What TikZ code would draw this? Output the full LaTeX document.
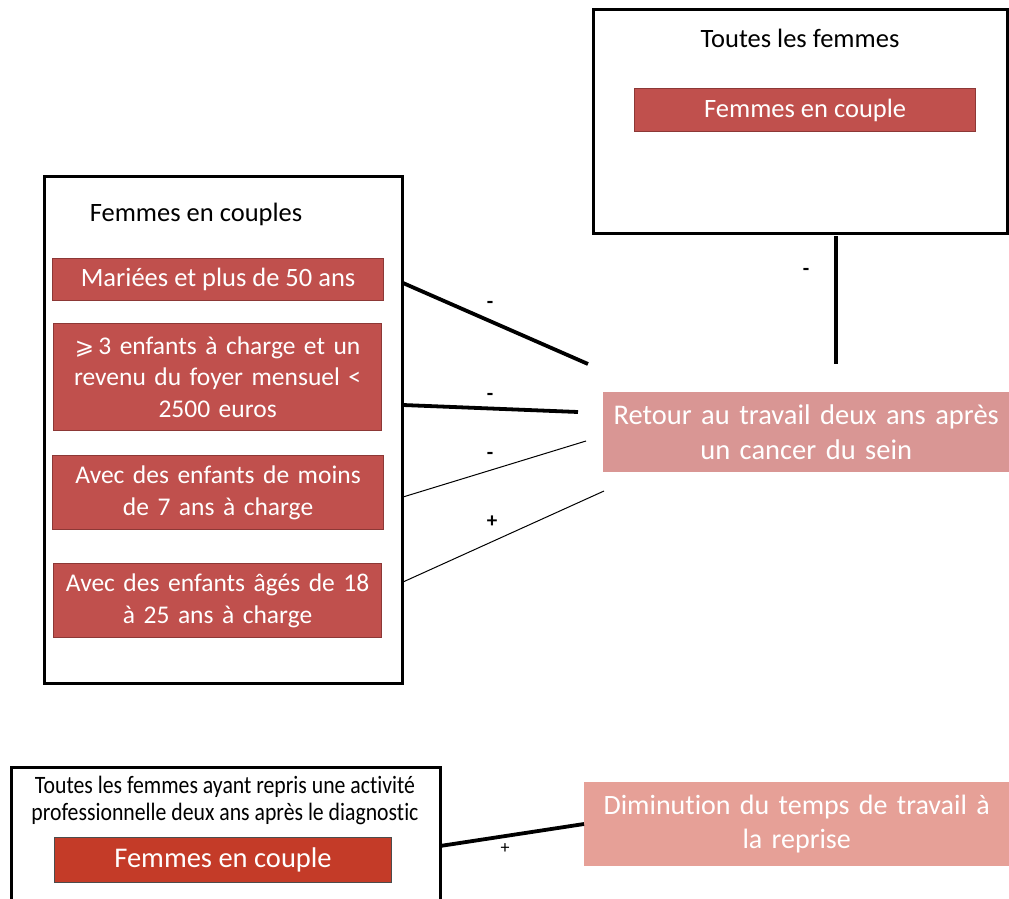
\documentclass[tikz,border=0pt]{standalone}
\usepackage{fontspec}
\setmainfont{Carlito}[Ligatures=NoCommon]
\newfontfamily\condfont[FakeStretch=0.87,Ligatures=NoCommon]{Carlito}
\definecolor{boxred}{HTML}{C0504D}
\definecolor{boxredline}{HTML}{8C3836}
\definecolor{pinkA}{HTML}{D99694}
\definecolor{pinkB}{HTML}{E6A097}
\definecolor{deepred}{HTML}{C43B28}
\tikzset{
  outer/.style={draw=black, line width=3pt, fill=white, inner sep=0pt},
  redbox/.style={draw=boxredline, line width=1.2pt, fill=boxred, text=white, inner sep=0pt, align=center,
    font=\fontsize{26.5}{31.5}\selectfont},
  redmulti/.style={redbox, font=\fontsize{25.5}{31.5}\selectfont},
  pinkbox/.style={fill=pinkA, text=white, inner sep=0pt, align=center, font=\fontsize{28.5}{35}\selectfont},
  hdr/.style={font=\fontsize{26.5}{30}\selectfont, inner sep=0pt},
  thickln/.style={line width=3.8pt},
  thinln/.style={line width=1pt},
  sign/.style={font=\fontsize{21}{21}\selectfont\bfseries, inner sep=0pt},
}
\begin{document}
\begin{tikzpicture}[x=1pt,y=-1pt]
\useasboundingbox (0,0) rectangle (1009,899);
% top right box
\node[outer, minimum width=414pt, minimum height=224pt, anchor=north west] (T) at (592,8) {};
\node[hdr] (Th) at (800,38) {Toutes les femmes};
\node[redbox, minimum width=341pt, minimum height=43pt, anchor=north west] (Tr) at (634,88) {Femmes en couple};
% left box
\node[outer, minimum width=358pt, minimum height=507pt, anchor=north west] (L) at (43,175) {};
\node[hdr] (Lh) at (196,214) {Femmes en couples};
\node[redbox, minimum width=331pt, minimum height=42pt, anchor=north west] (L1) at (52,258) {Mariées et plus de 50 ans};
\node[redmulti, minimum width=328pt, minimum height=107pt, anchor=north west, text width=326pt] (L2) at (53,323) {{\fontspec{DejaVu Sans}\fontsize{23}{31.5}\selectfont ⩾}\,3 enfants à charge et un\\revenu du foyer mensuel <\\2500 euros};
\node[redmulti, minimum width=331pt, minimum height=74pt, anchor=north west, text width=326pt] (L3) at (52,455) {Avec des enfants de moins\\de 7 ans à charge};
\node[redmulti, minimum width=328pt, minimum height=74pt, anchor=north west, text width=326pt] (L4) at (53,563) {Avec des enfants âgés de 18\\à 25 ans à charge};
% retour box
\node[pinkbox, minimum width=406pt, minimum height=80pt, anchor=north west, text width=404pt] (R) at (603,392) {Retour au travail deux ans après\\un cancer du sein};
% connectors
\coordinate (a1) at (403,283); \coordinate (b1) at (588,364);
\coordinate (a2) at (403,405); \coordinate (b2) at (578,412);
\coordinate (a3) at (403,497); \coordinate (b3) at (586,441);
\coordinate (a4) at (403,582); \coordinate (b4) at (604,491);
\coordinate (a0) at (836,236); \coordinate (b0) at (836,364);
\draw[thickln] (a1) -- (b1);
\draw[thickln] (a2) -- (b2);
\draw[thinln] (a3) -- (b3);
\draw[thinln] (a4) -- (b4);
\draw[thickln] (a0) -- (b0);
\node[sign] (s1) at (490,305) {-};
\node[sign] (s2) at (490,397) {-};
\node[sign] (s3) at (490,456) {-};
\node[sign] (s4) at (492,522) {+};
\node[sign] (s0) at (806,272) {-};
% bottom
\draw[line width=3pt] (11,910) -- (11,767) -- (440,767) -- (440,910);
\coordinate (B) at (440,846);
\node[font=\condfont\fontsize{25}{27}\selectfont, align=center, inner sep=0pt] (Bh) at (225,800) {Toutes les femmes ayant repris une activité\\professionnelle deux ans après le diagnostic};
\node[draw=black!70, line width=1pt, fill=deepred, text=white, inner sep=0pt, minimum width=337pt, minimum height=45pt, anchor=north west, font=\fontsize{28.5}{30}\selectfont] (Br) at (54,837) {Femmes en couple};
\node[pinkbox, fill=pinkB, minimum width=425pt, minimum height=84pt, anchor=north west, text width=423pt, font=\fontsize{28}{34}\selectfont] (D) at (584,782) {Diminution du temps de travail à\\la reprise};
\draw[thickln] (B) -- (D.west |- 0,824);
\node[font=\fontsize{18}{18}\selectfont, inner sep=0pt] (s5) at (505,849) {+};
\end{tikzpicture}
\end{document}
